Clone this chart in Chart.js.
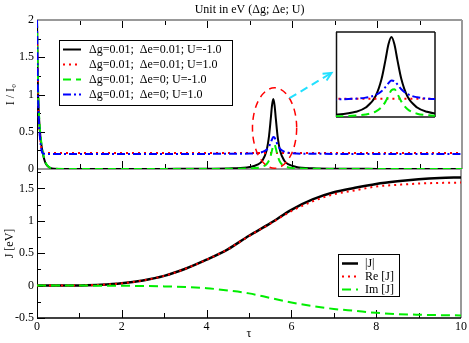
<!DOCTYPE html>
<html lang="en">
<head>
<meta charset="UTF-8">
<title>Unit in eV (Δg; Δe; U)</title>
<script src="https://cdn.jsdelivr.net/npm/chart.js"></script>
<style>
  body { margin: 0; background: #fff; }
  #wrap { position: relative; width: 469px; height: 343px; overflow: hidden; }
  canvas { position: absolute; }
  #topChart { left: 0; top: 0; }
  #bottomChart { left: 0; top: 150px; }
  #insetChart { left: 330px; top: 26px; }
</style>
</head>
<body>
<div id="wrap">
  <canvas id="topChart" width="469" height="185"></canvas>
  <canvas id="bottomChart" width="469" height="193"></canvas>
  <canvas id="insetChart" width="110" height="96"></canvas>
</div>
<script>
// ---- data ----
const topLabels = ['Δg=0.01;  Δe=0.01; U=-1.0', 'Δg=0.01;  Δe=0.01; U=1.0', 'Δg=0.01;  Δe=0; U=-1.0', 'Δg=0.01;  Δe=0; U=1.0'];
const tauTop = [0, 0.01, 0.02, 0.04, 0.07, 0.1, 0.13, 0.16, 0.2, 0.25, 0.3, 0.4, 1, 2, 3, 4, 4.6,
  5.0, 5.2, 5.3, 5.4, 5.46, 5.5, 5.53, 5.56, 5.59, 5.62, 5.66, 5.72, 5.82, 5.92, 6.1, 6.5, 7, 8, 9, 10];
const iBlack = [2.0, 1.55, 1.15, 0.78, 0.5, 0.34, 0.23, 0.15, 0.08, 0.04, 0.018, 0.004, 0, 0.001, 0.0015, 0.0035, 0.009,
  0.026, 0.061, 0.111, 0.245, 0.446, 0.672, 0.855, 0.94, 0.855, 0.672, 0.446, 0.245, 0.111, 0.061, 0.028, 0.0095, 0.004, 0.0015, 0.0008, 0.0005];
const iRed = [2.0, 1.5, 1.1, 0.72, 0.44, 0.29, 0.23, 0.218, 0.215, 0.215, 0.215, 0.215, 0.215, 0.215, 0.215, 0.215, 0.215,
  0.215, 0.215, 0.215, 0.215, 0.215, 0.215, 0.215, 0.215, 0.215, 0.215, 0.215, 0.215, 0.215, 0.215, 0.215, 0.215, 0.215, 0.215, 0.215, 0.215];
const iGreen = [2.0, 1.6, 1.2, 0.82, 0.53, 0.36, 0.24, 0.16, 0.09, 0.045, 0.02, 0.005, 0, 0, 0, 0.001, 0.003,
  0.0074, 0.017, 0.03, 0.064, 0.116, 0.181, 0.25, 0.314, 0.326, 0.274, 0.181, 0.094, 0.039, 0.021, 0.009, 0.003, 0.001, 0, 0, 0];
const iBlue = [2.0, 1.5, 1.1, 0.7, 0.42, 0.27, 0.215, 0.205, 0.203, 0.203, 0.203, 0.203, 0.203, 0.203, 0.203, 0.203, 0.204,
  0.207, 0.216, 0.228, 0.259, 0.304, 0.354, 0.398, 0.428, 0.421, 0.384, 0.327, 0.271, 0.232, 0.217, 0.208, 0.204, 0.203, 0.203, 0.203, 0.203];

const jLabels = ['|J|', 'Re [J]', 'Im [J]'];
const tauJ = [0, 0.5, 1, 1.5, 2, 2.5, 3, 3.5, 4, 4.5, 5, 5.5, 6, 6.5, 7, 7.5, 8, 8.5, 9, 9.5, 10];
const jAbs = [0, 0, 0.003, 0.012, 0.035, 0.08, 0.15, 0.26, 0.4, 0.56, 0.77, 0.96, 1.17, 1.33, 1.44, 1.51, 1.57, 1.61, 1.64, 1.66, 1.67];
const jRe = [0, 0, 0.003, 0.012, 0.035, 0.08, 0.15, 0.26, 0.4, 0.56, 0.765, 0.955, 1.15, 1.3, 1.41, 1.47, 1.53, 1.555, 1.575, 1.585, 1.59];
const jIm = [0, 0, 0, -0.001, -0.003, -0.006, -0.012, -0.022, -0.04, -0.075, -0.12, -0.19, -0.26, -0.315, -0.36, -0.39, -0.42, -0.44, -0.45, -0.456, -0.46];

// tick values
const xMajorTicks = [0, 2, 4, 6, 8, 10];
const xMinorTicks = [1, 3, 5, 7, 9];
const topYTicks = [0, 0.5, 1, 1.5, 2];
const topYMinor = [0.25, 0.75, 1.25, 1.75];
const jYTicks = [-0.5, 0, 0.5, 1, 1.5];
const jYMinor = [-0.25, 0.25, 0.75, 1.25, 1.75];

// red ellipse and cyan arrow, in data units of the top panel
const ellipseCenter = [5.59, 0.55];
const ellipseRadius = [0.52, 0.54];
const arrowFrom = [5.94, 0.95];
const arrowTo = [6.93, 1.29];

const serif = "'Liberation Serif', 'Times New Roman', 'DejaVu Serif', serif";
Chart.defaults.font.family = serif;
Chart.defaults.font.size = 12;
Chart.defaults.color = '#000';

const xy = (xs, ys) => xs.map((x, i) => ({ x: x, y: ys[i] }));
const plainLabel = v => String(v);

function line(label, xs, ys, color, dash, width, order) {
  return {
    label: label,
    data: xy(xs, ys),
    borderColor: color,
    borderDash: dash,
    borderWidth: width,
    pointRadius: 0,
    fill: false,
    cubicInterpolationMode: 'monotone',
    order: order
  };
}

function topSets() {
  return [
    line(topLabels[0], tauTop, iBlack, '#000000', [], 2, 4),
    line(topLabels[1], tauTop, iRed, '#ff0000', [2, 4], 2, 3),
    line(topLabels[2], tauTop, iGreen, '#00ee00', [8, 5], 2, 2),
    line(topLabels[3], tauTop, iBlue, '#0000ff', [8, 3, 2, 3], 2, 1)
  ];
}

// frame, inward ticks
const decor = {
  id: 'decor',
  beforeDatasetsDraw(chart, args, o) {
    const { ctx, chartArea: a } = chart;
    const x = chart.scales.x, y = chart.scales.y;
    ctx.save();
    if (o.fill) {
      ctx.fillStyle = '#fff';
      ctx.fillRect(a.left, a.top, a.right - a.left, a.bottom - a.top);
    }
    const seg = (x1, y1, x2, y2, col, w) => {
      ctx.strokeStyle = col; ctx.lineWidth = w;
      ctx.beginPath(); ctx.moveTo(x1, y1); ctx.lineTo(x2, y2); ctx.stroke();
    };
    (o.xSides || []).forEach(side => {
      const py = side === 'top' ? a.top : a.bottom;
      const dir = side === 'top' ? 1 : -1;
      xMajorTicks.forEach(v => { const px = Math.round(x.getPixelForValue(v)) + 0.5; seg(px, py, px, py + dir * 8, '#000', 1); });
      xMinorTicks.forEach(v => { const px = Math.round(x.getPixelForValue(v)) + 0.5; seg(px, py, px, py + dir * 5, '#000', 1); });
    });
    (o.yMajor || []).forEach(v => { const py = Math.round(y.getPixelForValue(v)) + 0.5; seg(a.left, py, a.left + 8, py, '#000', 1); });
    (o.yMinor || []).forEach(v => { const py = Math.round(y.getPixelForValue(v)) + 0.5; seg(a.left, py, a.left + 4, py, '#000', 1); });
    const e = o.edges || {};
    if (e.top) seg(a.left, a.top, a.right, a.top, e.top[0], e.top[1]);
    if (e.right) seg(a.right, a.top, a.right, a.bottom, e.right[0], e.right[1]);
    if (e.bottom) seg(a.left, a.bottom, a.right, a.bottom, e.bottom[0], e.bottom[1]);
    if (e.left) seg(a.left + 0.5, a.top, a.left + 0.5, a.bottom, e.left[0], e.left[1]);
    ctx.restore();
  }
};

// boxed legend like the original
const boxLegend = {
  id: 'boxLegend',
  afterDraw(chart, args, o) {
    if (!o.box) return;
    const ctx = chart.ctx;
    const [x1, y1, x2, y2] = o.box;
    ctx.save();
    ctx.fillStyle = '#fff';
    ctx.fillRect(x1, y1, x2 - x1, y2 - y1);
    ctx.strokeStyle = '#000'; ctx.lineWidth = 1;
    ctx.strokeRect(x1 + 0.5, y1 + 0.5, x2 - x1, y2 - y1);
    ctx.font = '12px ' + serif;
    ctx.textBaseline = 'middle';
    ctx.fillStyle = '#000';
    chart.data.datasets.forEach((ds, i) => {
      const yy = Math.round(o.rowY + i * o.rowGap) + 0.5;
      ctx.strokeStyle = ds.borderColor;
      ctx.lineWidth = ds.borderWidth;
      ctx.setLineDash(ds.borderDash);
      ctx.beginPath(); ctx.moveTo(o.lineX[0], yy); ctx.lineTo(o.lineX[1], yy); ctx.stroke();
      ctx.setLineDash([]);
      ctx.fillText(ds.label, o.textX, yy);
    });
    ctx.restore();
  }
};

// red dashed ellipse and cyan arrow towards the inset
const marks = {
  id: 'marks',
  afterDatasetsDraw(chart) {
    const { ctx } = chart;
    const x = chart.scales.x, y = chart.scales.y;
    const cx = x.getPixelForValue(ellipseCenter[0]), cy = y.getPixelForValue(ellipseCenter[1]);
    const rx = x.getPixelForValue(ellipseCenter[0] + ellipseRadius[0]) - cx;
    const ry = cy - y.getPixelForValue(ellipseCenter[1] + ellipseRadius[1]);
    ctx.save();
    ctx.strokeStyle = '#ff0000'; ctx.lineWidth = 1.5;
    ctx.setLineDash([7, 5]);
    ctx.beginPath(); ctx.ellipse(cx, cy, rx, ry, 0, 0, Math.PI * 2); ctx.stroke();

    const ax = x.getPixelForValue(arrowFrom[0]), ay = y.getPixelForValue(arrowFrom[1]);
    const bx = x.getPixelForValue(arrowTo[0]), by = y.getPixelForValue(arrowTo[1]);
    ctx.strokeStyle = '#22e0ff'; ctx.lineWidth = 2;
    ctx.setLineDash([8, 5]);
    ctx.beginPath(); ctx.moveTo(ax, ay); ctx.lineTo(bx, by); ctx.stroke();
    ctx.setLineDash([]);
    const ang = Math.atan2(by - ay, bx - ax);
    ctx.beginPath();
    ctx.moveTo(bx - 9 * Math.cos(ang - 0.45), by - 9 * Math.sin(ang - 0.45));
    ctx.lineTo(bx, by);
    ctx.lineTo(bx - 9 * Math.cos(ang + 0.45), by - 9 * Math.sin(ang + 0.45));
    ctx.stroke();
    ctx.restore();
  }
};

const noGrid = { display: false, drawTicks: false };

// top panel: I / I0
new Chart(document.getElementById('topChart'), {
  type: 'line',
  data: { datasets: topSets() },
  plugins: [decor, marks, boxLegend],
  options: {
    responsive: false,
    animation: false,
    layout: { padding: { left: 0, right: 7, top: 0, bottom: 16 } },
    plugins: {
      legend: { display: false },
      tooltip: { enabled: false },
      title: {
        display: true, text: 'Unit in eV (Δg; Δe; U)', fullSize: false,
        font: { size: 12, weight: 'normal' }, color: '#000', padding: { top: 3, bottom: 2.6 }
      },
      decor: {
        xSides: ['top', 'bottom'], yMajor: topYTicks, yMinor: topYMinor,
        edges: { top: ['#999', 2], right: ['#999', 2], bottom: ['#999', 2], left: ['#000', 1] }
      },
      boxLegend: { box: [59, 40, 232, 105], rowY: 49, rowGap: 15, lineX: [63, 81], textX: 89 }
    },
    scales: {
      x: { type: 'linear', min: 0, max: 10, display: false },
      y: {
        type: 'linear', min: 0, max: 2,
        afterBuildTicks: s => { s.ticks = topYTicks.map(v => ({ value: v })); },
        afterFit: s => { s.width = 37; },
        grid: noGrid, border: { display: false },
        ticks: { padding: 3, color: '#000', callback: plainLabel },
        title: { display: true, text: 'I / I₀', color: '#000', padding: { top: 4, bottom: 0 } }
      }
    }
  }
});

// inset: zoom on the peak
new Chart(document.getElementById('insetChart'), {
  type: 'line',
  data: { datasets: topSets() },
  plugins: [decor],
  options: {
    responsive: false,
    animation: false,
    layout: { padding: { left: 6, right: 5, top: 6, bottom: 5 } },
    plugins: {
      legend: { display: false },
      tooltip: { enabled: false },
      decor: { fill: true, edges: { top: ['#111', 1.5], right: ['#111', 1.5], bottom: ['#111', 1.5], left: ['#111', 1.5] } }
    },
    scales: {
      x: { type: 'linear', min: 5.0, max: 6.0, display: false },
      y: { type: 'linear', min: 0, max: 1, display: false }
    }
  }
});

// bottom panel: J
new Chart(document.getElementById('bottomChart'), {
  type: 'line',
  data: {
    datasets: [
      line(jLabels[0], tauJ, jAbs, '#000000', [], 2.5, 3),
      line(jLabels[1], tauJ, jRe, '#ff0000', [2, 4], 2, 2),
      line(jLabels[2], tauJ, jIm, '#00ee00', [9, 5], 2, 1)
    ]
  },
  plugins: [decor, boxLegend],
  options: {
    responsive: false,
    animation: false,
    layout: { padding: { left: 0, right: 7, top: 19, bottom: 0 } },
    plugins: {
      legend: { display: false },
      tooltip: { enabled: false },
      decor: {
        xSides: ['bottom'], yMajor: jYTicks, yMinor: jYMinor,
        edges: { right: ['#999', 2], bottom: ['#000', 1.5], left: ['#000', 1] }
      },
      boxLegend: { box: [338, 104, 399, 146], rowY: 112.7, rowGap: 13.3, lineX: [342, 358], textX: 365 }
    },
    scales: {
      x: {
        type: 'linear', min: 0, max: 10,
        afterBuildTicks: s => { s.ticks = xMajorTicks.map(v => ({ value: v })); },
        afterFit: s => { s.height = 25; },
        grid: noGrid, border: { display: false },
        ticks: { padding: 2, color: '#000', maxRotation: 0, callback: plainLabel },
        title: { display: true, text: 'τ', color: '#000', padding: { top: 0, bottom: 2 } }
      },
      y: {
        type: 'linear', min: -0.5, max: 1.8,
        afterBuildTicks: s => { s.ticks = jYTicks.map(v => ({ value: v })); },
        afterFit: s => { s.width = 37; },
        grid: noGrid, border: { display: false },
        ticks: { padding: 3, color: '#000', callback: plainLabel },
        title: { display: true, text: 'J [eV]', color: '#000', padding: { top: 3, bottom: 0 } }
      }
    }
  }
});
</script>
</body>
</html>
